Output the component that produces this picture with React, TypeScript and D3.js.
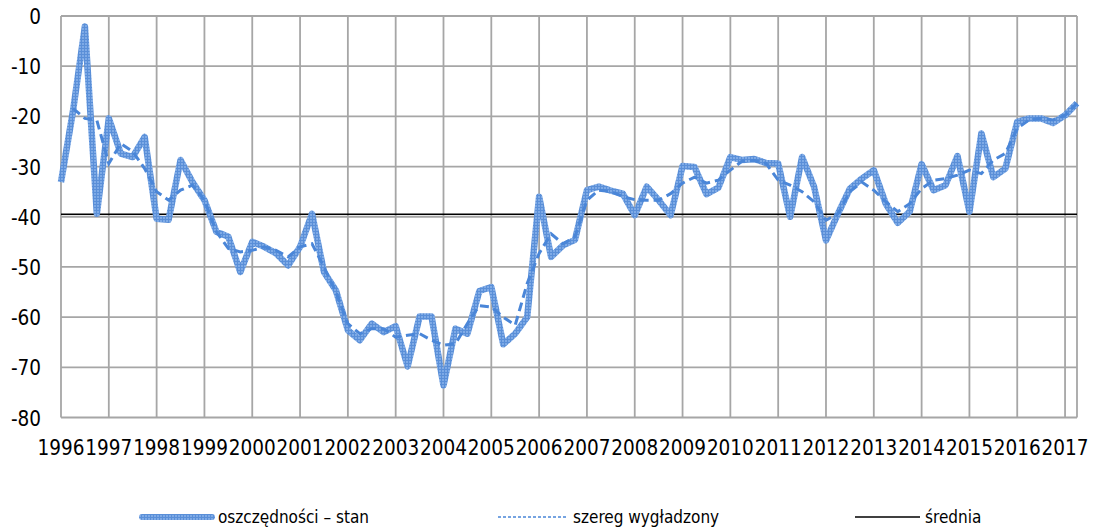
import React, { useEffect, useRef } from "react";
import * as d3 from "d3";

// quarterly values, 1996 Q1 .. 2017 Q2
const stan = [
  -33.1, -19.0, -2.1, -39.4, -20.4, -27.4, -28.1, -24.1, -40.4, -40.6,
  -28.7, -33.1, -36.7, -43.0, -44.0, -51.0, -45.0, -46.0, -47.3, -49.7,
  -46.0, -39.4, -51.0, -54.7, -62.6, -64.6, -61.3, -63.0, -61.8, -69.8,
  -59.9, -59.9, -73.6, -62.3, -63.3, -54.8, -54.0, -65.4, -63.3, -60.0,
  -36.0, -48.0, -45.7, -44.6, -34.7, -34.0, -34.8, -35.4, -39.7, -34.0,
  -36.7, -39.7, -29.9, -30.1, -35.5, -34.2, -28.1, -28.7, -28.5, -29.3,
  -29.4, -40.0, -28.1, -34.0, -44.7, -39.4, -34.4, -32.4, -30.7, -37.4,
  -41.2, -39.0, -29.5, -34.7, -33.7, -27.9, -39.0, -23.4, -32.1, -30.4,
  -21.1, -20.4, -20.4, -21.3, -19.8, -17.4,
];

const wygladzony = [
  null, -18.4, -20.4, -20.8, -29.4, -25.4, -27.0, -30.4, -35.0, -36.7,
  -34.7, -33.7, -36.7, -43.0, -46.3, -47.0, -46.7, -46.0, -46.7, -48.0,
  -46.0, -45.4, -50.0, -55.0, -61.3, -63.3, -62.3, -62.3, -64.0, -63.6,
  -63.3, -64.6, -65.6, -65.3, -61.3, -57.7, -58.0, -60.0, -61.6, -53.3,
  -47.3, -43.4, -45.4, -44.0, -36.7, -34.7, -35.0, -36.0, -36.6, -36.7,
  -36.7, -35.4, -33.3, -32.1, -33.3, -32.7, -30.7, -28.9, -28.8, -29.4,
  -32.7, -33.7, -35.0, -37.0, -40.7, -39.4, -35.0, -33.1, -34.7, -37.0,
  -39.0, -37.4, -34.4, -32.7, -32.4, -31.7, -30.7, -31.4, -28.7, -27.4,
  -22.4, -20.7, -20.4, -20.7, -19.8, -17.4,
];

const srednia = -39.5;

const years = [
  "1996", "1997", "1998", "1999", "2000", "2001", "2002", "2003", "2004",
  "2005", "2006", "2007", "2008", "2009", "2010", "2011", "2012", "2013",
  "2014", "2015", "2016", "2017",
];

const yTicks = [0, -10, -20, -30, -40, -50, -60, -70, -80];

const legendItems = ["oszczędności – stan", "szereg wygładzony", "średnia"];

const App = () => {
  const ref = useRef(null);

  useEffect(() => {
    const W = 1095;
    const H = 532;
    const font = "DejaVu Sans Condensed, DejaVu Sans, sans-serif";

    const svg = d3
      .select(ref.current)
      .html("")
      .append("svg")
      .attr("width", W)
      .attr("height", H)
      .style("position", "absolute")
      .style("left", "0px")
      .style("top", "0px")
      .style("background", "#fff");

    // textured stroke like the spreadsheet's thick line
    const pat = svg
      .append("defs")
      .append("pattern")
      .attr("id", "hatch")
      .attr("patternUnits", "userSpaceOnUse")
      .attr("width", 3)
      .attr("height", 3);
    pat.append("rect").attr("width", 3).attr("height", 3).attr("fill", "#7eaae6");
    pat.append("rect").attr("width", 3).attr("height", 1).attr("fill", "#5a8fd8");
    pat.append("rect").attr("width", 1).attr("height", 3).attr("fill", "#5a8fd8");

    const x = d3
      .scaleLinear()
      .domain([0, stan.length - 1])
      .range([61, 1077]);

    const y = d3.scaleLinear().domain([-80, 0]).range([417.5, 16]);

    const grid = svg.append("g").attr("stroke", "#a6a6a6").attr("stroke-width", 1.8);

    grid
      .selectAll("line.h")
      .data(yTicks)
      .join("line")
      .attr("class", "h")
      .attr("x1", x(0))
      .attr("x2", x(stan.length - 1))
      .attr("y1", (d) => y(d))
      .attr("y2", (d) => y(d));

    grid
      .selectAll("line.v")
      .data(years)
      .join("line")
      .attr("class", "v")
      .attr("x1", (d, i) => x(i * 4))
      .attr("x2", (d, i) => x(i * 4))
      .attr("y1", y(0))
      .attr("y2", y(-80));

    grid
      .append("line")
      .attr("x1", x(stan.length - 1))
      .attr("x2", x(stan.length - 1))
      .attr("y1", y(0))
      .attr("y2", y(-80));

    // y labels
    svg
      .append("g")
      .selectAll("text")
      .data(yTicks)
      .join("text")
      .attr("x", 41)
      .attr("y", (d) => y(d) + 8)
      .attr("text-anchor", "end")
      .attr("font-family", font)
      .attr("font-size", 20.5)
      .attr("fill", "#000")
      .text((d) => d);

    // x labels
    svg
      .append("g")
      .selectAll("text")
      .data(years)
      .join("text")
      .attr("x", (d, i) => x(i * 4))
      .attr("y", 455)
      .attr("text-anchor", "middle")
      .attr("font-family", font)
      .attr("font-size", 20.5)
      .attr("fill", "#000")
      .text((d) => d);

    // mean
    svg
      .append("line")
      .attr("x1", x(0))
      .attr("x2", x(stan.length - 1))
      .attr("y1", y(srednia))
      .attr("y2", y(srednia))
      .attr("stroke", "#000")
      .attr("stroke-width", 1.5);

    const line = d3
      .line()
      .defined((d) => d != null)
      .x((d, i) => x(i))
      .y((d) => y(d));

    svg
      .append("path")
      .attr("d", line(stan))
      .attr("fill", "none")
      .attr("stroke", "url(#hatch)")
      .attr("stroke-width", 6.5)
      .attr("stroke-linejoin", "round");

    svg
      .append("path")
      .attr("d", line(wygladzony))
      .attr("fill", "none")
      .attr("stroke", "#4a86d8")
      .attr("stroke-width", 3)
      .attr("stroke-dasharray", "9,5");

    // legend
    const lg = svg.append("g").attr("transform", "translate(0,517)");
    const samples = [
      { x1: 142, x2: 212, tx: 218 },
      { x1: 498, x2: 566, tx: 573 },
      { x1: 855, x2: 920, tx: 925 },
    ];
    legendItems.forEach((label, i) => {
      const s = samples[i];
      const l = lg
        .append("line")
        .attr("x1", s.x1)
        .attr("x2", s.x2)
        .attr("y1", 0)
        .attr("y2", 0);
      if (i === 0)
        l.attr("stroke", "url(#hatch)").attr("stroke-width", 6).attr("stroke-linecap", "round");
      if (i === 1)
        l.attr("stroke", "#4a86d8").attr("stroke-width", 1.5).attr("stroke-dasharray", "3,2");
      if (i === 2) l.attr("stroke", "#000").attr("stroke-width", 1.5);
      lg.append("text")
        .attr("x", s.tx)
        .attr("y", 6)
        .attr("font-family", font)
        .attr("font-size", 17)
        .attr("fill", "#000")
        .text(label);
    });
  }, []);

  return <div ref={ref} />;
};

export default App;
